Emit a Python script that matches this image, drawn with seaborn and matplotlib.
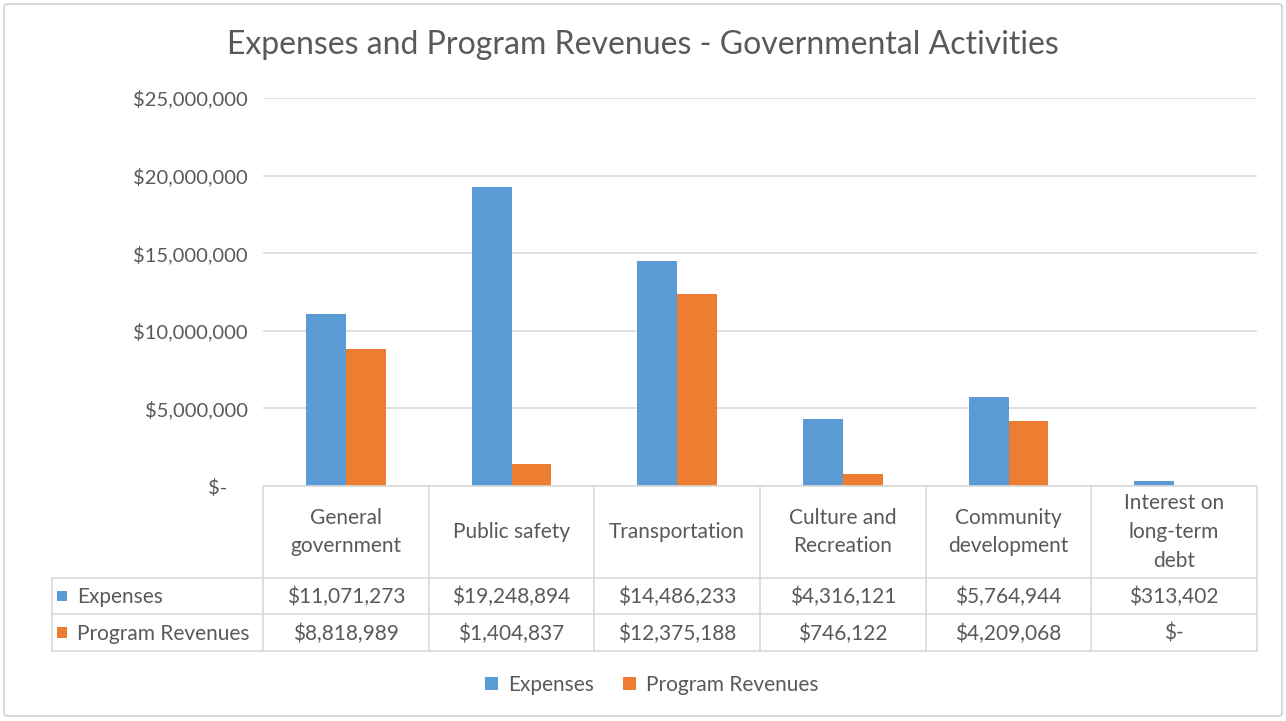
import pandas as pd
import matplotlib
matplotlib.use("Agg")
from matplotlib import pyplot as plt
from matplotlib.lines import Line2D
from matplotlib.patches import Patch, FancyBboxPatch, Rectangle
import matplotlib.transforms as mtransforms
import seaborn as sns

# ---- data ----
categories = ["General government", "Public safety", "Transportation",
              "Culture and Recreation", "Community development",
              "Interest on long-term debt"]
header_labels = ["General\ngovernment", "Public safety", "Transportation",
                 "Culture and\nRecreation", "Community\ndevelopment",
                 "Interest on\nlong-term\ndebt"]
expenses = [11071273, 19248894, 14486233, 4316121, 5764944, 313402]
program_revenues = [8818989, 1404837, 12375188, 746122, 4209068, 0]
series_names = ["Expenses", "Program Revenues"]
series_colors = ["#5B9BD5", "#ED7D31"]
y_ticks = [0, 5000000, 10000000, 15000000, 20000000, 25000000]

TEXT_COLOR = "#595959"
GRID_COLOR = "#D9D9D9"
W, H = 1286, 721


def money(v):
    return f"${v:,.0f}" if v else "$-"


def fx(px):
    return px / W


def fy(py):
    return 1 - py / H


df = pd.DataFrame({
    "category": categories * 2,
    "series": [series_names[0]] * len(categories) + [series_names[1]] * len(categories),
    "value": expenses + program_revenues,
})

sns.set_theme(style="white")
plt.rcParams["font.family"] = ["Lato", "DejaVu Sans"]

fig = plt.figure(figsize=(W / 100, H / 100), dpi=100)
ax = fig.add_axes([fx(263), fy(486), fx(1257) - fx(263), fy(98) - fy(486)])

sns.barplot(data=df, x="category", y="value", hue="series", order=categories,
            hue_order=series_names, palette=series_colors, width=0.48,
            linewidth=0, saturation=1, legend=False, ax=ax)

ax.set_ylim(0, 25000000)
ax.set_xlim(-0.5, len(categories) - 0.5)
ax.set_yticks(y_ticks)
ax.set_yticklabels([money(t) if t else "$-    " for t in y_ticks],
                   fontsize=14.5, color=TEXT_COLOR)
ax.tick_params(axis="y", length=0, pad=11)
ax.set_xticks([])
ax.set_xlabel("")
ax.set_ylabel("")
ax.yaxis.grid(True, color=GRID_COLOR, linewidth=1.2)
ax.set_axisbelow(True)
for s in ax.spines.values():
    s.set_visible(False)

# ---- data table under the plot ----
blend = mtransforms.blended_transform_factory(ax.transData, fig.transFigure)
row_edges = [486, 578, 614, 651]
n = len(categories)


def hline(x0, x1, y, trans):
    fig.add_artist(Line2D([x0, x1], [fy(y), fy(y)], transform=trans,
                          color=GRID_COLOR, linewidth=1.2, clip_on=False))


hline(-0.5, n - 0.5, row_edges[0], blend)
for y in row_edges[1:]:
    fig.add_artist(Line2D([fx(52), fx(263)], [fy(y), fy(y)], transform=fig.transFigure,
                          color=GRID_COLOR, linewidth=1.2))
    hline(-0.5, n - 0.5, y, blend)
for i in range(n + 1):
    fig.add_artist(Line2D([i - 0.5, i - 0.5], [fy(row_edges[0]), fy(row_edges[-1])],
                          transform=blend, color=GRID_COLOR, linewidth=1.2, clip_on=False))
fig.add_artist(Line2D([fx(52), fx(52)], [fy(row_edges[1]), fy(row_edges[-1])],
                      transform=fig.transFigure, color=GRID_COLOR, linewidth=1.2))

for i, lab in enumerate(header_labels):
    fig.text(i, fy(532), lab, transform=blend, ha="center", va="center",
             fontsize=15, color=TEXT_COLOR, linespacing=1.55)

for r, (name, vals, col) in enumerate(zip(series_names, [expenses, program_revenues], series_colors)):
    yc = (row_edges[r + 1] + row_edges[r + 2]) / 2
    fig.add_artist(Rectangle((fx(57), fy(yc + 5)), fx(10), fy(yc - 5) - fy(yc + 5),
                             transform=fig.transFigure, color=col, linewidth=0))
    fig.text(fx(77), fy(yc + 1), name, ha="left", va="center", fontsize=15, color=TEXT_COLOR)
    for i, v in enumerate(vals):
        fig.text(i, fy(yc + 1), money(v), transform=blend, ha="center", va="center",
                 fontsize=15, color=TEXT_COLOR)

# ---- title, legend, frame ----
fig.text(0.5, fy(45), "Expenses and Program Revenues - Governmental Activities",
         ha="center", va="center", fontsize=23, color=TEXT_COLOR)

handles = [Patch(facecolor=c, edgecolor="none", label=nm) for nm, c in zip(series_names, series_colors)]
fig.legend(handles=handles, loc="center", bbox_to_anchor=(0.507, fy(685)), ncol=2,
           frameon=False, fontsize=15, handlelength=0.6, handleheight=0.6,
           handletextpad=0.5, columnspacing=1.4, labelcolor=TEXT_COLOR)

fig.add_artist(FancyBboxPatch((fx(4), fy(716)), fx(1278), fy(4) - fy(716),
                              boxstyle="round,pad=0,rounding_size=0.004",
                              transform=fig.transFigure, facecolor="none",
                              edgecolor=GRID_COLOR, linewidth=1.5))

fig.savefig("out.png", dpi=100)
